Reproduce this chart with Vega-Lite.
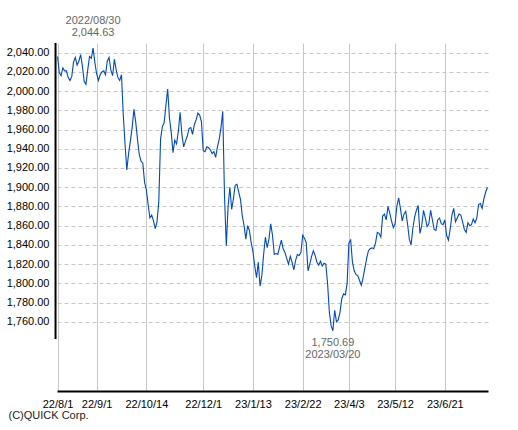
{
  "$schema": "https://vega.github.io/schema/vega-lite/v6.json",
  "width": 431,
  "height": 348,
  "autosize": "none",
  "padding": {"left": 57, "top": 43, "right": 30, "bottom": 39},
  "background": "white",
  "config": {
    "view": {"stroke": null},
    "axis": {
      "labelFont": "Liberation Sans",
      "labelFontSize": 11,
      "labelColor": "#000000",
      "gridColor": "#c8c8c8",
      "gridWidth": 1,
      "ticks": false,
      "tickSize": 0
    },
    "text": {"font": "Liberation Sans", "fontSize": 11, "color": "#666666"}
  },
  "datasets": {
    "prices": [
      {"date": "2022-08-01", "close": 2036}, {"date": "2022-08-02", "close": 2019}, {"date": "2022-08-03", "close": 2016},
      {"date": "2022-08-04", "close": 2024}, {"date": "2022-08-05", "close": 2021}, {"date": "2022-08-08", "close": 2021},
      {"date": "2022-08-09", "close": 2014}, {"date": "2022-08-10", "close": 2011}, {"date": "2022-08-12", "close": 2015},
      {"date": "2022-08-15", "close": 2030}, {"date": "2022-08-16", "close": 2035}, {"date": "2022-08-17", "close": 2027},
      {"date": "2022-08-18", "close": 2031}, {"date": "2022-08-19", "close": 2038}, {"date": "2022-08-22", "close": 2026},
      {"date": "2022-08-23", "close": 2010}, {"date": "2022-08-24", "close": 2007}, {"date": "2022-08-25", "close": 2022},
      {"date": "2022-08-26", "close": 2036}, {"date": "2022-08-29", "close": 2034}, {"date": "2022-08-30", "close": 2044.63},
      {"date": "2022-08-31", "close": 2030}, {"date": "2022-09-01", "close": 2018}, {"date": "2022-09-02", "close": 2011},
      {"date": "2022-09-05", "close": 2017}, {"date": "2022-09-06", "close": 2020}, {"date": "2022-09-07", "close": 2021},
      {"date": "2022-09-08", "close": 2017}, {"date": "2022-09-09", "close": 2031}, {"date": "2022-09-12", "close": 2035},
      {"date": "2022-09-13", "close": 2022}, {"date": "2022-09-14", "close": 2016}, {"date": "2022-09-15", "close": 2033},
      {"date": "2022-09-16", "close": 2022}, {"date": "2022-09-20", "close": 2014}, {"date": "2022-09-21", "close": 2011},
      {"date": "2022-09-22", "close": 2017}, {"date": "2022-09-26", "close": 1975}, {"date": "2022-09-27", "close": 1945},
      {"date": "2022-09-28", "close": 1918}, {"date": "2022-09-29", "close": 1935}, {"date": "2022-09-30", "close": 1948},
      {"date": "2022-10-03", "close": 1962}, {"date": "2022-10-04", "close": 1981}, {"date": "2022-10-05", "close": 1968},
      {"date": "2022-10-06", "close": 1950}, {"date": "2022-10-07", "close": 1934}, {"date": "2022-10-11", "close": 1927},
      {"date": "2022-10-12", "close": 1925}, {"date": "2022-10-13", "close": 1905}, {"date": "2022-10-14", "close": 1897},
      {"date": "2022-10-17", "close": 1882}, {"date": "2022-10-18", "close": 1868}, {"date": "2022-10-19", "close": 1871},
      {"date": "2022-10-20", "close": 1865}, {"date": "2022-10-21", "close": 1857}, {"date": "2022-10-24", "close": 1864},
      {"date": "2022-10-25", "close": 1885}, {"date": "2022-10-26", "close": 1950}, {"date": "2022-10-27", "close": 1963},
      {"date": "2022-10-28", "close": 1967}, {"date": "2022-10-31", "close": 1985}, {"date": "2022-11-01", "close": 2002},
      {"date": "2022-11-02", "close": 1972}, {"date": "2022-11-04", "close": 1957}, {"date": "2022-11-07", "close": 1936},
      {"date": "2022-11-08", "close": 1949}, {"date": "2022-11-09", "close": 1945}, {"date": "2022-11-10", "close": 1958},
      {"date": "2022-11-11", "close": 1978}, {"date": "2022-11-14", "close": 1955}, {"date": "2022-11-15", "close": 1942},
      {"date": "2022-11-16", "close": 1948}, {"date": "2022-11-17", "close": 1953}, {"date": "2022-11-18", "close": 1961},
      {"date": "2022-11-21", "close": 1962}, {"date": "2022-11-22", "close": 1955}, {"date": "2022-11-24", "close": 1965},
      {"date": "2022-11-25", "close": 1970}, {"date": "2022-11-28", "close": 1977}, {"date": "2022-11-29", "close": 1975},
      {"date": "2022-11-30", "close": 1968}, {"date": "2022-12-01", "close": 1938}, {"date": "2022-12-02", "close": 1937},
      {"date": "2022-12-05", "close": 1942}, {"date": "2022-12-06", "close": 1941}, {"date": "2022-12-07", "close": 1939},
      {"date": "2022-12-08", "close": 1935}, {"date": "2022-12-09", "close": 1937}, {"date": "2022-12-12", "close": 1931},
      {"date": "2022-12-13", "close": 1942}, {"date": "2022-12-14", "close": 1950}, {"date": "2022-12-15", "close": 1962},
      {"date": "2022-12-16", "close": 1979}, {"date": "2022-12-19", "close": 1890}, {"date": "2022-12-20", "close": 1839},
      {"date": "2022-12-21", "close": 1880}, {"date": "2022-12-22", "close": 1900}, {"date": "2022-12-23", "close": 1877},
      {"date": "2022-12-26", "close": 1888}, {"date": "2022-12-27", "close": 1902}, {"date": "2022-12-28", "close": 1903},
      {"date": "2022-12-29", "close": 1895}, {"date": "2022-12-30", "close": 1887}, {"date": "2023-01-04", "close": 1870},
      {"date": "2023-01-05", "close": 1860}, {"date": "2023-01-06", "close": 1846}, {"date": "2023-01-10", "close": 1860},
      {"date": "2023-01-11", "close": 1855}, {"date": "2023-01-12", "close": 1842}, {"date": "2023-01-13", "close": 1833},
      {"date": "2023-01-16", "close": 1818}, {"date": "2023-01-17", "close": 1806}, {"date": "2023-01-18", "close": 1822},
      {"date": "2023-01-19", "close": 1797}, {"date": "2023-01-20", "close": 1808}, {"date": "2023-01-23", "close": 1830},
      {"date": "2023-01-24", "close": 1848}, {"date": "2023-01-25", "close": 1837}, {"date": "2023-01-26", "close": 1846},
      {"date": "2023-01-27", "close": 1862}, {"date": "2023-01-30", "close": 1850}, {"date": "2023-01-31", "close": 1830},
      {"date": "2023-02-01", "close": 1831}, {"date": "2023-02-02", "close": 1830}, {"date": "2023-02-03", "close": 1838},
      {"date": "2023-02-06", "close": 1845}, {"date": "2023-02-07", "close": 1836}, {"date": "2023-02-08", "close": 1832},
      {"date": "2023-02-09", "close": 1826}, {"date": "2023-02-10", "close": 1820}, {"date": "2023-02-13", "close": 1828},
      {"date": "2023-02-14", "close": 1822}, {"date": "2023-02-15", "close": 1814}, {"date": "2023-02-16", "close": 1824},
      {"date": "2023-02-17", "close": 1830}, {"date": "2023-02-20", "close": 1829}, {"date": "2023-02-21", "close": 1832},
      {"date": "2023-02-22", "close": 1850}, {"date": "2023-02-24", "close": 1847}, {"date": "2023-02-27", "close": 1842},
      {"date": "2023-02-28", "close": 1813}, {"date": "2023-03-01", "close": 1820}, {"date": "2023-03-02", "close": 1828},
      {"date": "2023-03-03", "close": 1834}, {"date": "2023-03-06", "close": 1829}, {"date": "2023-03-07", "close": 1822},
      {"date": "2023-03-08", "close": 1819}, {"date": "2023-03-09", "close": 1823}, {"date": "2023-03-10", "close": 1818},
      {"date": "2023-03-13", "close": 1821}, {"date": "2023-03-14", "close": 1820}, {"date": "2023-03-15", "close": 1800},
      {"date": "2023-03-16", "close": 1770}, {"date": "2023-03-17", "close": 1756}, {"date": "2023-03-20", "close": 1750.69},
      {"date": "2023-03-22", "close": 1772}, {"date": "2023-03-23", "close": 1760}, {"date": "2023-03-24", "close": 1762},
      {"date": "2023-03-27", "close": 1770}, {"date": "2023-03-28", "close": 1784}, {"date": "2023-03-29", "close": 1789},
      {"date": "2023-03-30", "close": 1788}, {"date": "2023-03-31", "close": 1800}, {"date": "2023-04-03", "close": 1842},
      {"date": "2023-04-04", "close": 1845}, {"date": "2023-04-05", "close": 1822}, {"date": "2023-04-06", "close": 1813},
      {"date": "2023-04-07", "close": 1809}, {"date": "2023-04-10", "close": 1808}, {"date": "2023-04-11", "close": 1803},
      {"date": "2023-04-12", "close": 1798}, {"date": "2023-04-13", "close": 1806}, {"date": "2023-04-14", "close": 1816},
      {"date": "2023-04-17", "close": 1826}, {"date": "2023-04-18", "close": 1834}, {"date": "2023-04-19", "close": 1836},
      {"date": "2023-04-20", "close": 1837}, {"date": "2023-04-21", "close": 1836}, {"date": "2023-04-24", "close": 1842},
      {"date": "2023-04-25", "close": 1853}, {"date": "2023-04-26", "close": 1852}, {"date": "2023-04-27", "close": 1848},
      {"date": "2023-04-28", "close": 1870}, {"date": "2023-05-01", "close": 1872}, {"date": "2023-05-02", "close": 1866},
      {"date": "2023-05-08", "close": 1880}, {"date": "2023-05-09", "close": 1873}, {"date": "2023-05-10", "close": 1865},
      {"date": "2023-05-11", "close": 1858}, {"date": "2023-05-12", "close": 1862}, {"date": "2023-05-15", "close": 1880},
      {"date": "2023-05-16", "close": 1889}, {"date": "2023-05-17", "close": 1878}, {"date": "2023-05-18", "close": 1865},
      {"date": "2023-05-19", "close": 1872}, {"date": "2023-05-22", "close": 1875}, {"date": "2023-05-23", "close": 1862},
      {"date": "2023-05-24", "close": 1846}, {"date": "2023-05-25", "close": 1840}, {"date": "2023-05-26", "close": 1857},
      {"date": "2023-05-29", "close": 1869}, {"date": "2023-05-30", "close": 1876}, {"date": "2023-05-31", "close": 1881},
      {"date": "2023-06-01", "close": 1852}, {"date": "2023-06-02", "close": 1860}, {"date": "2023-06-05", "close": 1876},
      {"date": "2023-06-06", "close": 1868}, {"date": "2023-06-07", "close": 1859}, {"date": "2023-06-08", "close": 1862},
      {"date": "2023-06-09", "close": 1876}, {"date": "2023-06-12", "close": 1866}, {"date": "2023-06-13", "close": 1856},
      {"date": "2023-06-14", "close": 1855}, {"date": "2023-06-15", "close": 1866}, {"date": "2023-06-16", "close": 1868},
      {"date": "2023-06-19", "close": 1862}, {"date": "2023-06-20", "close": 1861}, {"date": "2023-06-21", "close": 1866},
      {"date": "2023-06-22", "close": 1850}, {"date": "2023-06-23", "close": 1845}, {"date": "2023-06-26", "close": 1856},
      {"date": "2023-06-27", "close": 1871}, {"date": "2023-06-28", "close": 1878}, {"date": "2023-06-29", "close": 1864},
      {"date": "2023-06-30", "close": 1868}, {"date": "2023-07-03", "close": 1872}, {"date": "2023-07-04", "close": 1871},
      {"date": "2023-07-05", "close": 1864}, {"date": "2023-07-06", "close": 1856}, {"date": "2023-07-07", "close": 1853},
      {"date": "2023-07-10", "close": 1863}, {"date": "2023-07-11", "close": 1860}, {"date": "2023-07-12", "close": 1861},
      {"date": "2023-07-13", "close": 1867}, {"date": "2023-07-14", "close": 1863}, {"date": "2023-07-18", "close": 1868},
      {"date": "2023-07-19", "close": 1882}, {"date": "2023-07-20", "close": 1883}, {"date": "2023-07-21", "close": 1878},
      {"date": "2023-07-24", "close": 1888}, {"date": "2023-07-25", "close": 1895}, {"date": "2023-07-26", "close": 1900}
    ],
    "extremes": [
      {"date": "2022-08-30", "close": 2044.63, "label": "2022/08/30", "kind": "high"},
      {"date": "2023-03-20", "close": 1750.69, "label": "2023/03/20", "kind": "low"}
    ]
  },
  "layer": [
    {
      "data": {"name": "prices"},
      "mark": {"type": "line", "color": "#0049bf", "strokeWidth": 1.1},
      "encoding": {
        "x": {
          "field": "date",
          "type": "ordinal",
          "scale": {"type": "point", "padding": 0.3},
          "axis": {
            "values": ["2022-08-01", "2022-09-01", "2022-10-14", "2022-12-01", "2023-01-13", "2023-02-22", "2023-04-03", "2023-05-12", "2023-06-21"],
            "labelExpr": "slice(datum.value, 2, 4) + '/' + toNumber(slice(datum.value, 5, 7)) + '/' + toNumber(slice(datum.value, 8, 10))",
            "labelAngle": 0,
            "labelPadding": 7,
            "labelOverlap": false,
            "domainColor": "#000000",
            "domainWidth": 2,
            "grid": true,
            "title": "(C)QUICK Corp.",
            "titleFont": "Liberation Sans",
            "titleFontSize": 11,
            "titleFontWeight": "normal",
            "titleColor": "#222222",
            "titleAlign": "left",
            "titleBaseline": "alphabetic",
            "titleX": -49,
            "titleY": 27
          }
        },
        "y": {
          "field": "close",
          "type": "quantitative",
          "scale": {"domain": [1688, 2050], "nice": false, "zero": false},
          "axis": {
            "values": [1760, 1780, 1800, 1820, 1840, 1860, 1880, 1900, 1920, 1940, 1960, 1980, 2000, 2020, 2040],
            "tickCount": 30,
            "format": ",.2f",
            "labelPadding": 8,
            "labelOverlap": false,
            "domain": false,
            "gridDash": [4, 3],
            "title": null
          }
        }
      }
    },
    {
      "data": {"values": [{}]},
      "mark": {"type": "rule", "color": "#000000", "strokeWidth": 2, "xOffset": -2},
      "encoding": {
        "x": {"datum": "2022-08-01", "type": "ordinal"},
        "y": {"datum": 1742, "type": "quantitative"},
        "y2": {"datum": 2050}
      }
    },
    {
      "data": {"name": "extremes"},
      "transform": [{"filter": "datum.kind == 'high'"}],
      "mark": {"type": "text", "dy": -15, "baseline": "middle"},
      "encoding": {
        "x": {"field": "date", "type": "ordinal"},
        "y": {"field": "close", "type": "quantitative"},
        "text": {"field": "close", "type": "quantitative", "format": ",.2f"}
      }
    },
    {
      "data": {"name": "extremes"},
      "transform": [{"filter": "datum.kind == 'high'"}],
      "mark": {"type": "text", "dy": -27, "baseline": "middle"},
      "encoding": {
        "x": {"field": "date", "type": "ordinal"},
        "y": {"field": "close", "type": "quantitative"},
        "text": {"field": "label", "type": "nominal"}
      }
    },
    {
      "data": {"name": "extremes"},
      "transform": [{"filter": "datum.kind == 'low'"}],
      "mark": {"type": "text", "dy": 12, "baseline": "middle"},
      "encoding": {
        "x": {"field": "date", "type": "ordinal"},
        "y": {"field": "close", "type": "quantitative"},
        "text": {"field": "close", "type": "quantitative", "format": ",.2f"}
      }
    },
    {
      "data": {"name": "extremes"},
      "transform": [{"filter": "datum.kind == 'low'"}],
      "mark": {"type": "text", "dy": 24, "baseline": "middle"},
      "encoding": {
        "x": {"field": "date", "type": "ordinal"},
        "y": {"field": "close", "type": "quantitative"},
        "text": {"field": "label", "type": "nominal"}
      }
    }
  ]
}
